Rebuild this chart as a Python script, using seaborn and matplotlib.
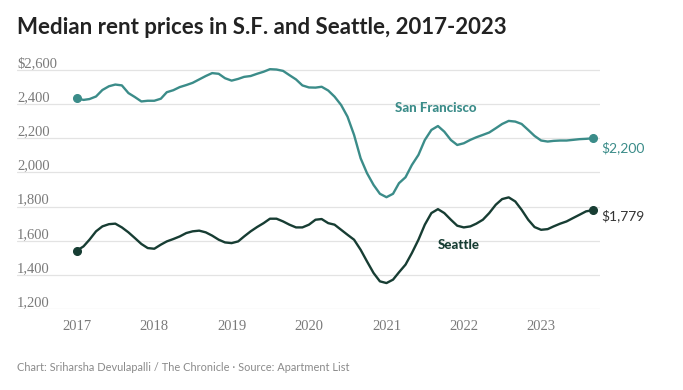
import pandas as pd
import matplotlib.pyplot as plt
import matplotlib.dates as mdates
import seaborn as sns

# monthly medians, Jan 2017 - Sep 2023
months = pd.date_range('2017-01-01', '2023-09-01', freq='MS')

sf = [2434, 2425, 2430, 2445, 2483, 2505, 2515, 2510, 2465, 2442, 2416, 2420,
      2420, 2432, 2470, 2482, 2500, 2512, 2525, 2545, 2565, 2582, 2578, 2552,
      2538, 2548, 2560, 2565, 2578, 2590, 2605, 2603, 2595, 2570, 2545, 2510,
      2498, 2497, 2502, 2480, 2444, 2395, 2327, 2220, 2083, 1996, 1927, 1875,
      1855, 1875, 1937, 1972, 2044, 2103, 2190, 2249, 2272, 2239, 2190, 2161,
      2171, 2191, 2206, 2220, 2234, 2259, 2284, 2302, 2298, 2284, 2249, 2214,
      2187, 2181, 2185, 2187, 2187, 2191, 2195, 2197, 2200]

seattle = [1542, 1567, 1606, 1655, 1684, 1697, 1700, 1678, 1649, 1616, 1581, 1557,
           1553, 1577, 1596, 1610, 1625, 1645, 1655, 1659, 1649, 1630, 1606, 1590,
           1586, 1596, 1625, 1655, 1680, 1703, 1729, 1729, 1713, 1694, 1678, 1678,
           1694, 1723, 1727, 1703, 1694, 1664, 1635, 1606, 1547, 1479, 1411, 1362,
           1352, 1372, 1415, 1460, 1528, 1606, 1694, 1762, 1785, 1762, 1723, 1688,
           1678, 1684, 1700, 1723, 1762, 1811, 1844, 1854, 1830, 1781, 1723, 1680,
           1664, 1668, 1684, 1700, 1713, 1733, 1752, 1772, 1779]

cities = ['San Francisco', 'Seattle']
colors = {'San Francisco': '#3b8c89', 'Seattle': '#173d33'}
y_ticks = [1200, 1400, 1600, 1800, 2000, 2200, 2400, 2600]
years = [2017, 2018, 2019, 2020, 2021, 2022, 2023]

df = pd.concat([
    pd.DataFrame({'date': months, 'rent': sf, 'city': 'San Francisco'}),
    pd.DataFrame({'date': months, 'rent': seattle, 'city': 'Seattle'}),
])

sns.set_style('white')
plt.rcParams['font.family'] = ['Lato', 'DejaVu Sans']

fig = plt.figure(figsize=(6.83, 3.90), dpi=100)
ax = fig.add_axes([0.0249, 0.2077, 0.8536, 0.6346])

sns.lineplot(data=df, x='date', y='rent', hue='city', palette=colors,
             linewidth=1.7, legend=False, ax=ax)

# dots at both ends of each line
for city in cities:
    d = df[df.city == city]
    ax.plot(d.date.iloc[[0, -1]], d.rent.iloc[[0, -1]], 'o',
            color=colors[city], ms=5.5, zorder=5)

# end value labels
last_sf = df[df.city == 'San Francisco'].iloc[-1]
last_se = df[df.city == 'Seattle'].iloc[-1]
ax.annotate(f'${last_sf.rent:,.0f}', (last_sf.date, last_sf.rent),
            xytext=(6, -7), textcoords='offset points', va='center',
            fontsize=10, color='#3b8c89')
ax.annotate(f'${last_se.rent:,.0f}', (last_se.date, last_se.rent),
            xytext=(6, -4), textcoords='offset points', va='center',
            fontsize=10, color='#333333')

# inline series names
ax.text(pd.Timestamp('2021-08-22'), 2377, 'San Francisco', ha='center',
        va='center', fontsize=9.5, fontweight='black', color='#3b8c89')
ax.text(pd.Timestamp('2021-12-10'), 1575, 'Seattle', ha='center',
        va='center', fontsize=9.5, fontweight='black', color='#173d33')

ax.set_ylim(1200, 2650)
ax.set_xlim(pd.Timestamp('2016-03-24'), pd.Timestamp('2023-10-06'))
ax.set_yticks(y_ticks)
ax.set_yticklabels([f'${v:,}' if v == y_ticks[-1] else f'{v:,}' for v in y_ticks],
                   ha='left', va='bottom', family='Liberation Serif',
                   fontsize=10.5, color='#7a7a7a')
ax.tick_params(axis='y', length=0, pad=0)
ax.set_xticks([pd.Timestamp(f'{y}-01-01') for y in years])
ax.xaxis.set_major_formatter(mdates.DateFormatter('%Y'))
ax.tick_params(axis='x', length=0, pad=8, labelsize=10.5, labelcolor='#7a7a7a')
for lab in ax.get_xticklabels():
    lab.set_family('Liberation Serif')

ax.grid(axis='y', color='#e3e3e3', linewidth=0.9)
ax.grid(axis='x', visible=False)
sns.despine(ax=ax, left=True, bottom=True)
ax.set_xlabel('')
ax.set_ylabel('')

fig.text(0.0249, 0.93, 'Median rent prices in S.F. and Seattle, 2017-2023',
         fontsize=16, fontweight='bold', color='#222222', va='center')
fig.text(0.0249, 0.058,
         'Chart: Sriharsha Devulapalli / The Chronicle \u00b7 Source: Apartment List',
         fontsize=7.9, color='#8a8a8a', va='center')

fig.savefig('out.png', dpi=100, facecolor='white')
